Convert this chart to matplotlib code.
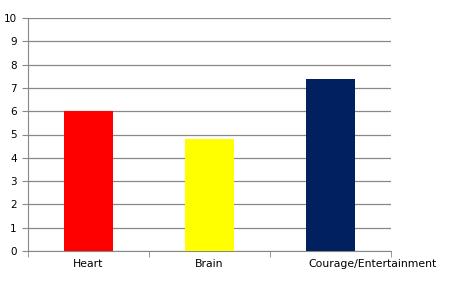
import matplotlib
matplotlib.use("Agg")
import matplotlib.pyplot as plt
import matplotlib.transforms as mtransforms

categories = ["Heart", "Brain", "Courage/Entertainment"]
values = [6.0, 4.8, 7.4]
colors = ["#FF0000", "#FFFF00", "#002060"]
yticks = list(range(0, 11))

fig = plt.figure(figsize=(4.62, 2.91), dpi=100)
ax = fig.add_axes([28/462, 40/291, (391-28)/462, (251-18)/291])
x = list(range(len(categories)))
ax.bar(x, values, width=0.4, color=colors, zorder=3)
ax.set_xlim(-0.5, len(categories) - 0.5)
ax.set_ylim(0, 10)
ax.set_yticks(yticks)
ax.set_yticklabels([str(t) for t in yticks], fontsize=7.5)
ax.grid(axis="y", color="#888888", linewidth=0.9, zorder=0)
ax.set_xticks(x)
ax.set_xticklabels(categories, fontsize=7.8)
ax.tick_params(axis="x", length=0, pad=6)
ax.tick_params(axis="y", length=4, color="#888888", pad=4)
ax.set_xticks([-0.5, 0.5, 1.5, 2.5], minor=True)
ax.tick_params(axis="x", which="minor", length=4, color="#888888")
for s in ["top", "right"]:
    ax.spines[s].set_visible(False)
ax.spines["left"].set_color("#888888")
ax.spines["bottom"].set_color("#888888")
# last label sits shifted right in the reference
lbl = ax.get_xticklabels()[-1]
lbl.set_transform(lbl.get_transform() + mtransforms.ScaledTranslation(42/100, 0, fig.dpi_scale_trans))
fig.savefig("out.png", dpi=100)
